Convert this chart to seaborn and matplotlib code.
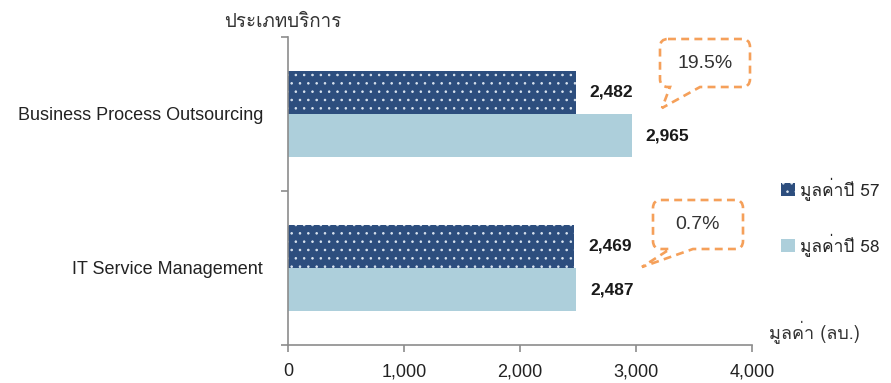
import numpy as np
import pandas as pd
import matplotlib
matplotlib.use("Agg")
import matplotlib.pyplot as plt
import seaborn as sns
from matplotlib import font_manager, ft2font
from matplotlib.path import Path
from matplotlib.patches import PathPatch, Patch
from matplotlib.ticker import FuncFormatter

# ---- data ----
categories = ["Business Process Outsourcing", "IT Service Management"]
series_names = ["มูลค่าปี 57", "มูลค่าปี 58"]
values_57 = [2482, 2469]
values_58 = [2965, 2487]
growth_labels = ["19.5%", "0.7%"]
x_ticks = [0, 1000, 2000, 3000, 4000]
y_title = "ประเภทบริการ"
x_title = "มูลค่า (ลบ.)"

# ---- fonts ----
def find_thai_font():
    seen = set()
    for f in font_manager.fontManager.ttflist:
        if f.name in seen:
            continue
        seen.add(f.name)
        try:
            cm = ft2font.FT2Font(f.fname).get_charmap()
            if 0x0E1B in cm and 0x0E48 in cm:
                return f.name
        except Exception:
            pass
    return None

sns.set_theme(style="white")
thai = find_thai_font()
latin = "Liberation Sans"
thai_family = [thai, latin, "DejaVu Sans"] if thai else [latin, "DejaVu Sans"]
plt.rcParams["font.family"] = [latin, "DejaVu Sans"]
plt.rcParams["hatch.linewidth"] = 0.6

df = pd.DataFrame({
    "category": categories * 2,
    "series": [series_names[0]] * len(categories) + [series_names[1]] * len(categories),
    "value": values_57 + values_58,
})

dark = "#2D4E7E"
light = "#ADCFDB"
gray = "#8C8C8C"
orange = "#F5A05A"
dotc = "#DCE6F0"

W, H = 891, 383
fig = plt.figure(figsize=(W / 100, H / 100), dpi=100)
ax = fig.add_axes([288 / W, 1 - 345 / H, (752 - 288) / W, (345 - 37) / H])

sns.barplot(data=df, y="category", x="value", hue="series", orient="h",
            palette=[dark, light], width=0.56, ax=ax, legend=False,
            saturation=1, linewidth=0)

# dotted pattern on the 57 series
for bar in ax.containers[0]:
    bar.set_hatch("..")
    bar.set_edgecolor(dotc)
    bar.set_linewidth(0)

for cont in ax.containers:
    ax.bar_label(cont, labels=[f"{v:,.0f}" for v in cont.datavalues],
                 padding=10, fontsize=12.5, fontweight="bold", color="#1a1a1a")

ax.set_xlim(0, 4000)
ax.set_ylim(1.5, -0.5)
ax.set_xticks(x_ticks)
ax.xaxis.set_major_formatter(FuncFormatter(lambda v, p: f"{v:,.0f}"))
ax.set_xlabel("")
ax.set_ylabel("")

for s in ["top", "right"]:
    ax.spines[s].set_visible(False)
for s in ["left", "bottom"]:
    ax.spines[s].set_color(gray)
    ax.spines[s].set_linewidth(1.2)

ax.tick_params(axis="x", which="major", direction="out", length=5, width=1.2,
               color=gray, pad=8, labelsize=13, labelcolor="#222222", bottom=True)
ax.tick_params(axis="y", which="major", length=0, pad=18, labelsize=13,
               labelcolor="#222222")
ax.set_yticks([-0.5, 0.5, 1.5], minor=True)
ax.tick_params(axis="y", which="minor", direction="out", length=5, width=1.2,
               color=gray, left=True)

# titles
fig.text(224 / W, 1 - 22 / H, y_title, fontsize=13.5, color="#333333",
         family=thai_family, va="center", ha="left")
fig.text(769 / W, 1 - 332 / H, x_title, fontsize=13, color="#333333",
         family=thai_family, va="center", ha="left")

# legend
handles = [Patch(facecolor=dark, edgecolor=dotc, hatch="..", linewidth=0),
           Patch(facecolor=light, linewidth=0)]
fig.legend(handles, series_names, loc="center left",
           bbox_to_anchor=(765 / W, 1 - 217 / H), frameon=False,
           handlelength=0.8, handleheight=0.8, handletextpad=0.3,
           labelspacing=1.9, prop={"family": thai_family, "size": 12.5})

# callouts
def callout(L, T, R, B, x1, x2, tx, ty, text, r=8):
    pts = [
        ((L + r, T), Path.MOVETO), ((R - r, T), Path.LINETO),
        ((R, T), Path.CURVE3), ((R, T + r), Path.CURVE3),
        ((R, B - r), Path.LINETO),
        ((R, B), Path.CURVE3), ((R - r, B), Path.CURVE3),
        ((x2, B), Path.LINETO), ((tx, ty), Path.LINETO), ((x1, B), Path.LINETO),
        ((L + r, B), Path.LINETO),
        ((L, B), Path.CURVE3), ((L, B - r), Path.CURVE3),
        ((L, T + r), Path.LINETO),
        ((L, T), Path.CURVE3), ((L + r, T), Path.CURVE3),
        ((L + r, T), Path.CLOSEPOLY),
    ]
    verts = [(x / W, 1 - y / H) for (x, y), _ in pts]
    codes = [c for _, c in pts]
    patch = PathPatch(Path(verts, codes), transform=fig.transFigure,
                      facecolor="white", edgecolor=orange, linewidth=1.9,
                      linestyle=(0, (3, 2)), zorder=5)
    fig.patches.append(patch)
    fig.text((L + R) / 2 / W, 1 - (T + B) / 2 / H, text, fontsize=14,
             color="#333333", ha="center", va="center", zorder=6)

callout(660, 39, 750, 87, 670, 700, 662, 108, growth_labels[0])
callout(653, 200, 743, 249, 670, 693, 642, 267, growth_labels[1])

fig.savefig("out.png", dpi=100, facecolor="white")
